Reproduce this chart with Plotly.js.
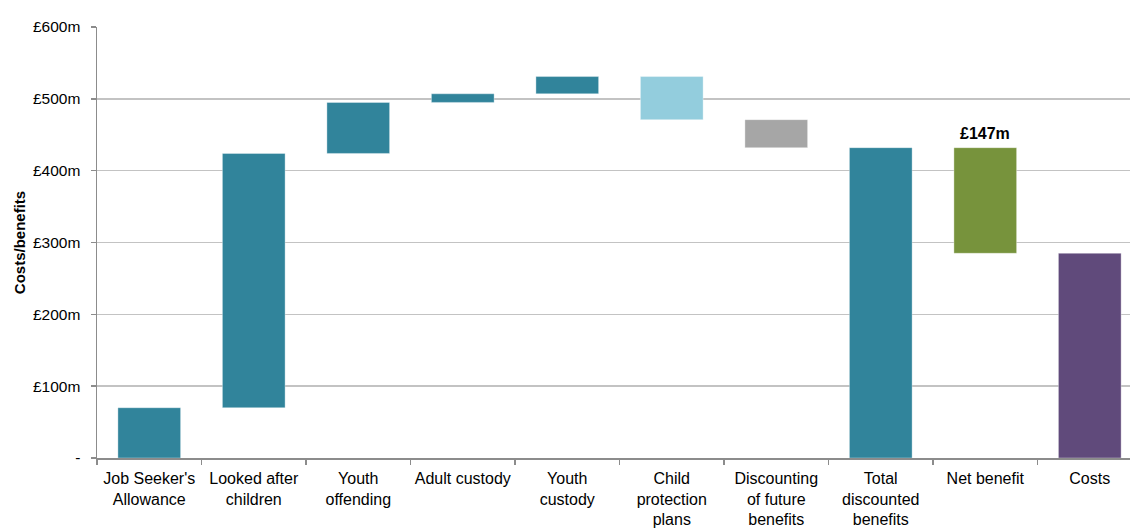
<!DOCTYPE html>
<html>
<head>
<meta charset="utf-8">
<script src="https://cdn.plot.ly/plotly-3.0.1.min.js"></script>
<style>html,body{margin:0;padding:0;background:#fff}#chart{width:1130px;height:528px}</style>
</head>
<body>
<div id="chart"></div>
<script>
// Categories (x-axis tick labels)
const categories = [
  "Job Seeker's<br>Allowance",
  "Looked after<br>children",
  "Youth<br>offending",
  "Adult custody",
  "Youth<br>custody",
  "Child<br>protection<br>plans",
  "Discounting<br>of future<br>benefits",
  "Total<br>discounted<br>benefits",
  "Net benefit",
  "Costs"
];
// Each bar runs from a start value to an end value (£m)
const startValues = [0, 70, 424, 495, 507, 531, 471, 0, 432, 0];
const endValues   = [70, 424, 495, 507, 531, 471, 432, 432, 285, 285];
const barColors = ["#31849b","#31849b","#31849b","#31849b","#31849b","#93cddd","#a6a6a6","#31849b","#77933c","#604a7b"];
// Y-axis ticks
const yTickValues = [0, 100, 200, 300, 400, 500, 600];
const yTickLabels = ["-", "£100m", "£200m", "£300m", "£400m", "£500m", "£600m"];
const labelIndex = 8; // bar carrying the value label

const bases = startValues.map((s, i) => Math.min(s, endValues[i]));
const heights = startValues.map((s, i) => Math.abs(endValues[i] - s));

const trace = {
  type: "bar",
  x: categories,
  y: heights,
  base: bases,
  width: 0.6,
  marker: {color: barColors, line: {color: "rgba(255,255,255,0.35)", width: 1}},
  hoverinfo: "skip"
};

const layout = {
  width: 1130,
  height: 528,
  margin: {l: 97, r: 0, t: 27, b: 70},
  paper_bgcolor: "#fff",
  plot_bgcolor: "#fff",
  showlegend: false,
  bargap: 0.4,
  font: {family: "Liberation Sans, Arial, sans-serif", color: "#000"},
  xaxis: {
    type: "category",
    range: [-0.5, 9.385],
    tickson: "boundaries",
    tickangle: 0,
    ticks: "outside",
    ticklen: 5,
    tickcolor: "#8c8c8c",
    tickwidth: 1.5,
    ticklabelstandoff: 5,
    showline: true,
    linecolor: "#8c8c8c",
    linewidth: 1.5,
    showgrid: false,
    tickfont: {size: 16, color: "#000"},
    fixedrange: true
  },
  yaxis: {
    range: [0, 600],
    tickvals: yTickValues,
    ticktext: yTickLabels,
    ticks: "outside",
    ticklen: 5,
    tickcolor: "#8c8c8c",
    tickwidth: 1.5,
    ticklabelstandoff: 7,
    showline: true,
    linecolor: "#8c8c8c",
    linewidth: 1.5,
    showgrid: true,
    gridcolor: "#c3c3c3",
    gridwidth: 1.5,
    zeroline: false,
    tickfont: {size: 15.5, color: "#000"},
    title: {text: "Costs/benefits", font: {size: 15, color: "#000", weight: "bold"}, standoff: 3},
    fixedrange: true
  },
  annotations: [{
    x: categories[labelIndex],
    y: Math.max(startValues[labelIndex], endValues[labelIndex]),
    yanchor: "bottom",
    yshift: 4,
    text: "<b>£" + Math.abs(endValues[labelIndex] - startValues[labelIndex]) + "m</b>",
    showarrow: false,
    font: {size: 16, color: "#000"}
  }]
};

Plotly.newPlot("chart", [trace], layout, {displayModeBar: false, staticPlot: true});
</script>
</body>
</html>
